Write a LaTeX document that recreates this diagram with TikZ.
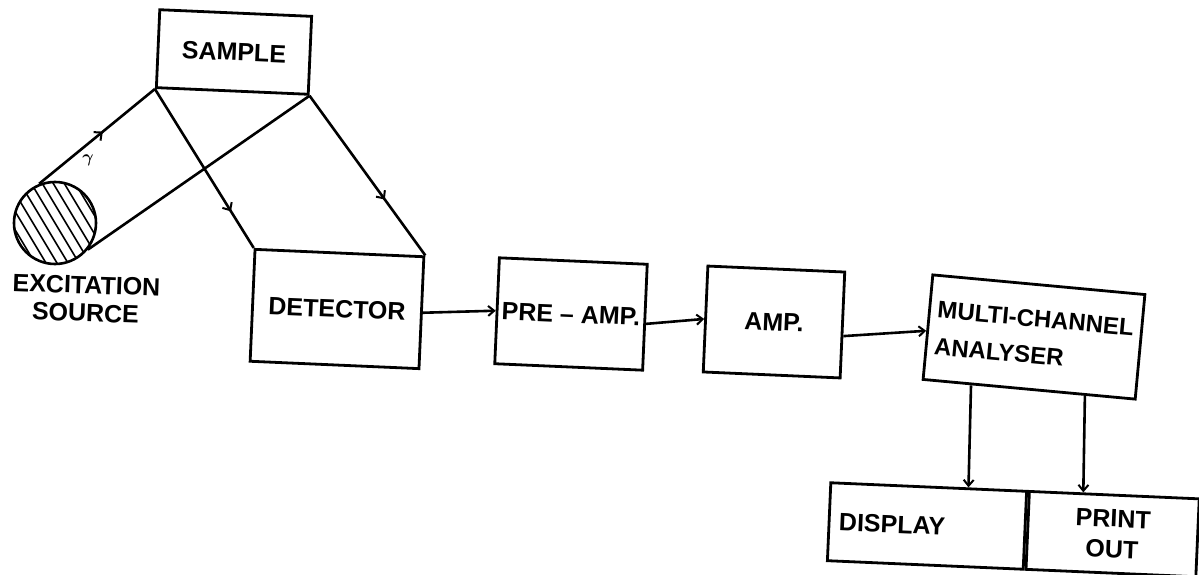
\documentclass[tikz,border=0pt]{standalone}
\usepackage{fontspec}
\setmainfont{Liberation Sans}
\usetikzlibrary{arrows.meta,calc,decorations.markings}
\begin{document}
\begin{tikzpicture}[x=1pt,y=-1pt,
  every node/.style={font=\fontsize{25}{30}\selectfont\bfseries},
  blk/.style={draw, line width=2.8pt, rotate=-2.5, inner sep=0pt, align=center},
  ln/.style={line width=2.6pt},
  tip/.style={-{Straight Barb[length=6pt,width=10pt,line width=2pt]}},
  midarrow/.style={postaction={decorate}, decoration={markings, mark=at position #1 with {\arrow{Straight Barb[length=6pt,width=11pt,line width=2pt]}}}}
]
\useasboundingbox (0,0) rectangle (1199,575);

% blocks
\node[blk, minimum width=152pt, minimum height=78pt] (sample) at (234,52) {SAMPLE};
\node[blk, minimum width=169pt, minimum height=112pt] (det) at (337,309) {DETECTOR};
\node[blk, minimum width=148pt, minimum height=106pt] (pre) at (571,314) {PRE -- AMP.};
\node[blk, minimum width=137pt, minimum height=106pt] (amp) at (774,322) {AMP.};
\node[blk, rotate=-2.8, minimum width=213pt, minimum height=105pt, align=left,
      font=\fontsize{24}{37}\selectfont\bfseries] (mca) at (1034,337) {MULTI-CHANNEL\\ANALYSER};
\node[blk, minimum height=78pt, text width=176pt, inner xsep=10pt, align=left] (disp) at (927,526) {DISPLAY};
\node[blk, anchor=west, minimum height=78pt, minimum width=170pt,
      font=\fontsize{25}{31}\selectfont\bfseries] (print) at (disp.east) {PRINT\\OUT};

% excitation source
\node[draw, circle, line width=2.6pt, minimum size=82pt, inner sep=0pt] (src) at (55,223) {};
\begin{scope}
  \clip (55,223) circle (41pt);
  \foreach \i in {-7,...,7}
    \draw[line width=1.6pt] ({55+\i*11-30},173) -- ({55+\i*11+30},273);
\end{scope}
\node[rotate=-2, align=center, font=\fontsize{25}{28}\selectfont\bfseries] (srclabel) at (86,299) {EXCITATION\\SOURCE};
\node[font=\fontsize{17}{17}\selectfont\boldmath] (gam) at (88,160) {$\gamma$};

% beam lines
\draw[ln, midarrow=0.55] (src.112) -- (sample.south west);
\draw[ln] (src.321) -- (sample.south east);
\draw[ln, midarrow=0.77] (sample.south west) -- (det.north west);
\draw[ln, midarrow=0.65] (sample.south east) -- (det.north east);

% signal chain
\draw[ln, tip] (det.east) -- (pre.west);
\draw[ln, tip] (pre.-5) -- (amp.west);
\draw[ln, tip] (amp.-9) -- (mca.182);
\draw[ln, tip] ($(mca.south west)!0.23!(mca.south east)$) -- ($(disp.north west)!0.7!(disp.north east)$);
\draw[ln, tip] ($(mca.south west)!0.76!(mca.south east)$) -- ($(print.north west)!0.32!(print.north east)$);
\end{tikzpicture}
\end{document}
